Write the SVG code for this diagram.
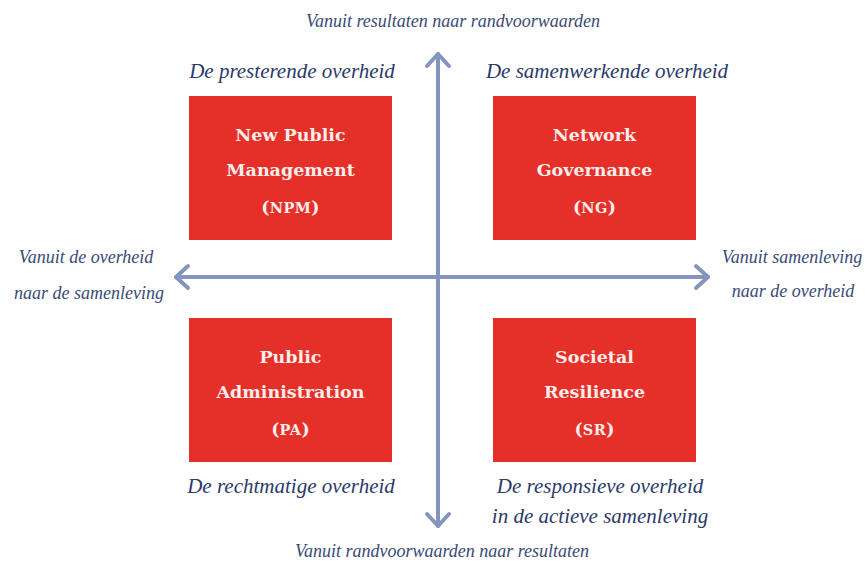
<svg xmlns="http://www.w3.org/2000/svg" width="867" height="564" viewBox="0 0 867 564">
<style>
.box{fill:#E5302A}
.bt{font-family:"DejaVu Serif",serif;font-weight:bold;font-size:17.5px;fill:#FBEDEA;text-anchor:middle}
.sc{font-size:14.5px;letter-spacing:0.5px}
.h{font-family:"Liberation Serif",serif;font-style:italic;font-size:21px;fill:#2B3A6B;text-anchor:middle}
.a{font-family:"Liberation Serif",serif;font-style:italic;font-size:18px;fill:#3A4A78;text-anchor:middle}
.ax{stroke:#8494BF;stroke-width:4;fill:none;stroke-linecap:round;stroke-linejoin:round}
</style>
<rect width="867" height="564" fill="#FFFFFF"/>
<g id="connectors">
<line class="ax" x1="438" y1="54" x2="438" y2="526"/>
<polyline class="ax" points="427,66 438,54 449,66"/>
<polyline class="ax" points="427,514 438,526 449,514"/>
<line class="ax" x1="176" y1="277" x2="708" y2="277"/>
<polyline class="ax" points="188,266 176,277 188,288"/>
<polyline class="ax" points="696,266 708,277 696,288"/>
</g>
<g id="npm">
<rect class="box" x="189" y="96" width="203" height="144"/>
<text class="bt" x="290.5" y="141">New Public</text>
<text class="bt" x="290.5" y="176">Management</text>
<text class="bt" x="290.5" y="213">(<tspan class="sc">NPM</tspan>)</text>
</g>
<g id="ng">
<rect class="box" x="493" y="96" width="203" height="144"/>
<text class="bt" x="594.5" y="141">Network</text>
<text class="bt" x="594.5" y="176">Governance</text>
<text class="bt" x="594.5" y="213">(<tspan class="sc">NG</tspan>)</text>
</g>
<g id="pa">
<rect class="box" x="189" y="318" width="203" height="144"/>
<text class="bt" x="290.5" y="363">Public</text>
<text class="bt" x="290.5" y="398">Administration</text>
<text class="bt" x="290.5" y="435">(<tspan class="sc">PA</tspan>)</text>
</g>
<g id="sr">
<rect class="box" x="493" y="318" width="203" height="144"/>
<text class="bt" x="594.5" y="363">Societal</text>
<text class="bt" x="594.5" y="398">Resilience</text>
<text class="bt" x="594.5" y="435">(<tspan class="sc">SR</tspan>)</text>
</g>
<g id="labels">
<text class="a" x="453" y="27">Vanuit resultaten naar randvoorwaarden</text>
<text class="h" x="292" y="78">De presterende overheid</text>
<text class="h" x="607" y="78">De samenwerkende overheid</text>
<text class="a" x="86" y="263">Vanuit de overheid</text>
<text class="a" x="89" y="299">naar de samenleving</text>
<text class="a" x="792" y="263">Vanuit samenleving</text>
<text class="a" x="793" y="297">naar de overheid</text>
<text class="h" x="291" y="493">De rechtmatige overheid</text>
<text class="h" x="600" y="493">De responsieve overheid</text>
<text class="h" x="600" y="523">in de actieve samenleving</text>
<text class="a" x="442" y="557">Vanuit randvoorwaarden naar resultaten</text>
</g>
</svg>
